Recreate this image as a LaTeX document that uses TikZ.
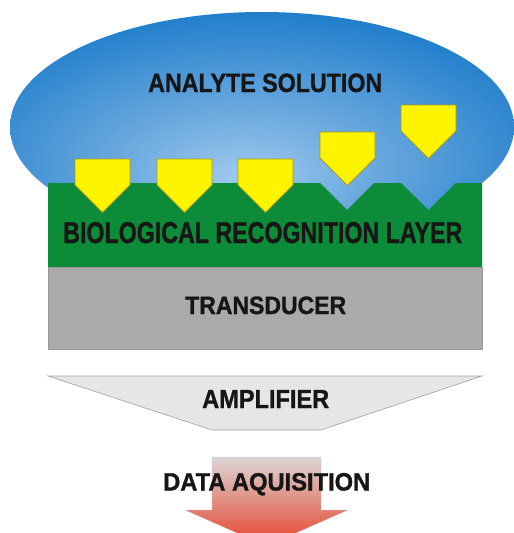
\documentclass[tikz,border=0pt]{standalone}
\usepackage{fontspec}
\setmainfont{Liberation Sans}[BoldFeatures={FakeBold=1.2}]
\usepackage{graphicx}
\definecolor{solin}{RGB}{160,202,238}
\definecolor{solmid}{RGB}{105,168,222}
\definecolor{solout}{RGB}{22,120,200}
\definecolor{biogreen}{RGB}{12,140,56}
\definecolor{pentfill}{RGB}{255,244,0}
\definecolor{pentline}{RGB}{165,155,30}
\definecolor{transgray}{RGB}{170,170,170}
\definecolor{transline}{RGB}{150,150,150}
\definecolor{ampfill}{RGB}{230,230,230}
\definecolor{ampline}{RGB}{160,160,160}
\definecolor{daqtop}{RGB}{218,214,214}
\definecolor{daqbot}{RGB}{232,66,42}
\definecolor{labeltext}{RGB}{22,22,22}
\pgfdeclareradialshading{solution}{\pgfpoint{-2bp}{-11bp}}{color(0bp)=(solin); color(13bp)=(solmid); color(34bp)=(solout); color(70bp)=(solout)}
\tikzset{
  lbl/.style={anchor=base west, inner sep=0pt, text=labeltext, font=\bfseries},
  pentstyle/.style={fill=pentfill, draw=pentline, line width=0.8pt, line join=miter},
  pent/.pic={\draw[pentstyle] (0,0) -- (55,0) -- (55,26) -- (27.5,53.5) -- (0,26) -- cycle;}
}
\begin{document}
\begin{tikzpicture}[x=1pt,y=-1pt]
\useasboundingbox (0,0) rectangle (514,533);
\clip (0,0) rectangle (514,533);
\fill[white] (0,0) rectangle (514,533);
% analyte solution
\shade[shading=solution] (262,127) ellipse [x radius=252, y radius=115];
% biological recognition layer
\fill[biogreen] (48,183) -- (320,183) -- (347,210) -- (374,183) -- (401,183) -- (428.5,210) -- (456,183) -- (482,183) -- (482,267) -- (48,267) -- cycle;
% analytes / receptors
\pic at (75,159) {pent};
\pic at (157,159) {pent};
\pic at (238,159) {pent};
\pic at (320,132) {pent};
\pic at (401,105) {pent};
% transducer
\draw[fill=transgray, draw=transline, line width=0.6pt] (48,267) rectangle (482,349);
% amplifier
\draw[fill=ampfill, draw=ampline, line width=0.6pt] (48,376) -- (482,376) -- (321,430) -- (212,430) -- cycle;
% data acquisition arrow
\shade[top color=daqtop, bottom color=daqbot, draw=daqtop!80!gray, line width=0.4pt]
  (212,457) -- (321,457) -- (321,510) -- (348,510) -- (266.5,546) -- (185,510) -- (212,510) -- cycle;
% labels
\node[lbl] (analyte) at (148,92) {\resizebox{234pt}{18.5pt}{ANALYTE SOLUTION}};
\node[lbl] (bio) at (63,243) {\resizebox{399pt}{21pt}{BIOLOGICAL RECOGNITION LAYER}};
\node[lbl] (trans) at (185,314) {\resizebox{161pt}{17.5pt}{TRANSDUCER}};
\node[lbl] (amp) at (202,408) {\resizebox{127pt}{18pt}{AMPLIFIER}};
\node[lbl] (daq) at (163,490.5) {\resizebox{207pt}{17.5pt}{DATA AQUISITION}};
\end{tikzpicture}
\end{document}
